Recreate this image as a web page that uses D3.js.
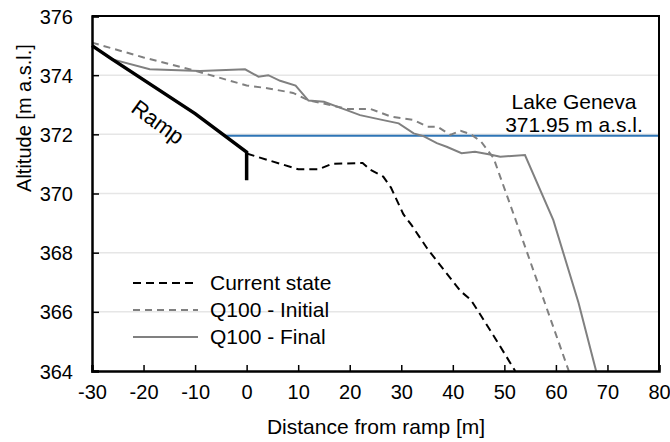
<!DOCTYPE html>
<html>
<head>
<meta charset="utf-8">
<script src="https://cdn.jsdelivr.net/npm/d3@7"></script>
<style>
  body { margin: 0; background: #fff; }
  text { font-family: "Liberation Sans", Arial, sans-serif; fill: #000; }
</style>
</head>
<body>
<div id="chart"></div>
<script>
/* profile data [distance m, altitude m a.s.l.] */
const ramp = [[-30, 375.0], [-26.2, 374.55], [-10, 372.7], [0, 371.4], [0, 370.45]];

const currentState = [[0, 371.35], [10, 370.82], [14, 370.82], [16.5, 371.0], [22.5, 371.03],
  [24, 370.8], [26.5, 370.57], [28, 370.2], [30.4, 369.3], [32, 368.93], [35, 368.15],
  [37, 367.7], [41.5, 366.7], [43.5, 366.4], [45, 366.0], [48.6, 365.0], [52.1, 364.0]];

const q100Initial = [[-30, 375.1], [-20, 374.6], [-10, 374.15], [0, 373.65], [4, 373.56],
  [9, 373.4], [12, 373.15], [16, 373.0], [19.5, 372.86], [24, 372.86], [28, 372.6],
  [32.5, 372.48], [35, 372.26], [37, 372.26], [39.5, 371.98], [41.5, 372.12], [43.5, 372.0],
  [45.5, 371.75], [47.9, 371.2], [52, 369.2], [62.5, 364.0]];

const q100Final = [[-30, 375.0], [-26.2, 374.54], [-18.8, 374.2], [-9, 374.14], [-0.3, 374.2],
  [2.3, 373.95], [4.2, 374.0], [6.5, 373.81], [9.5, 373.65], [12, 373.14], [15, 373.1],
  [19.4, 372.82], [22, 372.65], [26.5, 372.48], [29.5, 372.37], [32.4, 372.03], [34.3, 371.94],
  [36.9, 371.7], [38.8, 371.58], [41.7, 371.36], [44.3, 371.41], [47.2, 371.32], [49.2, 371.24],
  [54, 371.3], [59.5, 369.1], [64.4, 366.3], [67.8, 364.0]];

const lakeLevel = 371.95;
const lakeFrom = -4.2;

const xTicks = [-30, -20, -10, 0, 10, 20, 30, 40, 50, 60, 70, 80];
const yTicks = [364, 366, 368, 370, 372, 374, 376];

const legendNames = ["Current state", "Q100 - Initial", "Q100 - Final"];


const width = 670, height = 442;
const margin = {top: 16, right: 11, bottom: 71, left: 92};

const svg = d3.select("#chart").append("svg")
	.attr("width", width)
	.attr("height", height);

const xScale = d3.scaleLinear()
	.domain([-30, 80])
	.range([margin.left, width - margin.right]);

const yScale = d3.scaleLinear()
	.domain([364, 376])
	.range([height - margin.bottom, margin.top]);

const line = d3.line()
	.x(d => xScale(d[0]))
	.y(d => yScale(d[1]));

/* gridlines */
svg.append("g").selectAll("line")
	.data(yTicks.slice(1, -1)).enter()
	.append("line")
	.attr("x1", xScale(-30)).attr("x2", xScale(80))
	.attr("y1", d => yScale(d)).attr("y2", d => yScale(d))
	.attr("stroke", "#e6e6e6")
	.attr("stroke-width", 1.5);

/* lake level */
svg.append("line")
	.attr("x1", xScale(lakeFrom)).attr("x2", xScale(80))
	.attr("y1", yScale(lakeLevel)).attr("y2", yScale(lakeLevel))
	.attr("stroke", "#2e75b6")
	.attr("stroke-width", 2);

svg.append("text")
	.attr("x", 574).attr("y", 109)
	.attr("text-anchor", "middle")
	.style("font-size", "21px")
	.text("Lake Geneva");

svg.append("text")
	.attr("x", 574).attr("y", 131.5)
	.attr("text-anchor", "middle")
	.style("font-size", "21px")
	.text("371.95 m a.s.l.");

/* series */
const series = [
	{data: currentState, color: "#000", dash: "8,5"},
	{data: q100Initial, color: "#808080", dash: "7,5"},
	{data: q100Final, color: "#808080", dash: null}
];

svg.append("g").selectAll("path")
	.data(series).enter()
	.append("path")
	.attr("d", d => line(d.data))
	.attr("fill", "none")
	.attr("stroke", d => d.color)
	.attr("stroke-width", 2)
	.attr("stroke-dasharray", d => d.dash);

/* ramp */
svg.append("path")
	.attr("d", line(ramp))
	.attr("fill", "none")
	.attr("stroke", "#000")
	.attr("stroke-width", 3.5);

svg.append("text")
	.attr("transform", "translate(158,122) rotate(36)")
	.attr("text-anchor", "middle")
	.attr("dy", "0.35em")
	.style("font-size", "22px")
	.text("Ramp");

/* axes */
const xAxis = d3.axisBottom(xScale).tickValues(xTicks).tickFormat(d => String(d)).tickSize(-6).tickPadding(14);
const yAxis = d3.axisLeft(yScale).tickValues(yTicks).tickFormat(d => String(d)).tickSize(-7).tickPadding(19);

const gx = svg.append("g")
	.attr("transform", "translate(0," + yScale(364) + ")")
	.call(xAxis);

const gy = svg.append("g")
	.attr("transform", "translate(" + xScale(-30) + ",0)")
	.call(yAxis);

[gx, gy].forEach(g => {
	g.select(".domain").attr("stroke", "#000").attr("stroke-width", 2.5);
	g.selectAll(".tick line").attr("stroke", "#000").attr("stroke-width", 1.5);
	g.selectAll(".tick text").style("font-size", "20px").style("font-family", "Liberation Sans, Arial, sans-serif").attr("fill", "#000");
});
gy.selectAll(".tick text").attr("dy", "0.35em");

/* top and right frame */
svg.append("path")
	.attr("d", "M" + xScale(-30) + "," + yScale(376) + "H" + xScale(80) + "V" + yScale(364))
	.attr("fill", "none")
	.attr("stroke", "#000")
	.attr("stroke-width", 2);

/* axis titles */
svg.append("text")
	.attr("x", 376).attr("y", 434)
	.attr("text-anchor", "middle")
	.style("font-size", "21px")
	.text("Distance from ramp [m]");

svg.append("text")
	.attr("transform", "translate(24,118) rotate(-90)")
	.attr("text-anchor", "middle")
	.attr("dy", "0.35em")
	.style("font-size", "20px")
	.text("Altitude [m a.s.l.]");

/* legend */
const legend = svg.append("g").selectAll("g")
	.data(series).enter()
	.append("g")
	.attr("transform", (d, i) => "translate(133," + (283 + i * 27) + ")");

legend.append("line")
	.attr("x1", 0).attr("x2", 65)
	.attr("stroke", d => d.color)
	.attr("stroke-width", 2)
	.attr("stroke-dasharray", d => d.dash);

legend.append("text")
	.attr("x", 77)
	.attr("dy", "0.35em")
	.style("font-size", "21px")
	.text((d, i) => legendNames[i]);
</script>
</body>
</html>
